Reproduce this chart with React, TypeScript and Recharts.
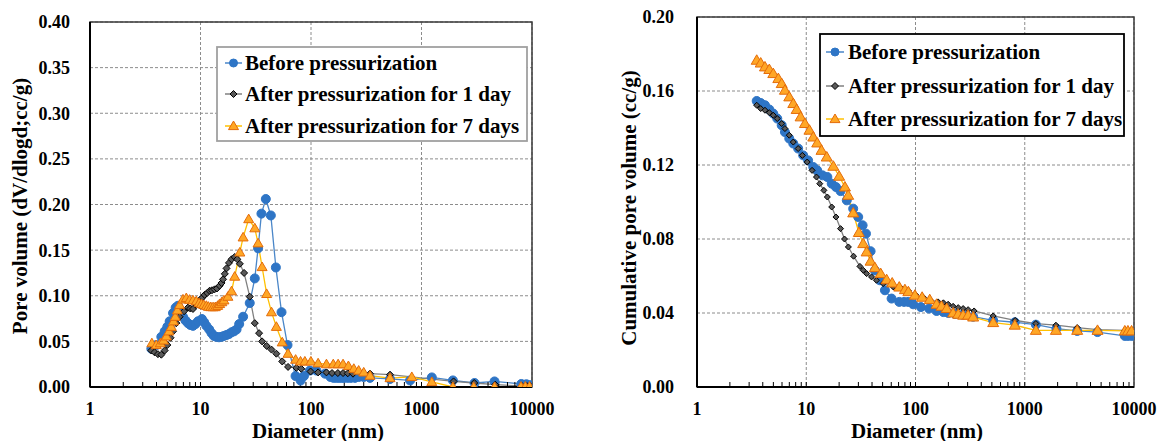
import { LineChart, Line, XAxis, YAxis, CartesianGrid, ReferenceArea } from 'recharts'

const FONT = "'Liberation Serif', 'Times New Roman', serif"

// diameter ticks (nm)
const xTicks = [1, 10, 100, 1000, 10000]
const xMinorTicks = [
  2, 3, 4, 5, 6, 7, 8, 9, 10,
  20, 30, 40, 50, 60, 70, 80, 90, 100,
  200, 300, 400, 500, 600, 700, 800, 900, 1000,
  2000, 3000, 4000, 5000, 6000, 7000, 8000, 9000,
]
const psdYTicks = [0, 0.05, 0.1, 0.15, 0.2, 0.25, 0.3, 0.35, 0.4]
const cumYTicks = [0, 0.04, 0.08, 0.12, 0.16, 0.2]

const seriesNames = ['Before pressurization', 'After pressurization for 1 day', 'After pressurization for 7 days']

// pore size distribution, [diameter nm, dV/dlogd]
const psdBefore: [number, number][] = [
  [3.59, 0.042], [3.98, 0.046], [4.42, 0.055], [4.74, 0.061], [5.01, 0.066], [5.26, 0.072], [5.64, 0.081],
  [5.96, 0.087], [6.25, 0.089], [6.6, 0.084], [6.94, 0.077], [7.3, 0.073], [7.7, 0.07], [8.1, 0.068],
  [8.55, 0.067], [9.0, 0.069], [9.49, 0.072], [10.3, 0.0745], [10.8, 0.071], [11.3, 0.067], [12.0, 0.063],
  [12.6, 0.059], [13.2, 0.056], [13.9, 0.055], [14.7, 0.0545], [15.5, 0.055], [16.3, 0.056], [17.2, 0.057],
  [18.1, 0.058], [19.1, 0.06], [20.1, 0.061], [21.2, 0.063], [22.4, 0.069], [24.3, 0.077], [27.9, 0.092],
  [31, 0.119], [33.2, 0.152], [35.6, 0.19], [39, 0.206], [43.3, 0.188], [48.1, 0.131], [54.1, 0.082],
  [61.3, 0.046], [72.5, 0.012], [80.5, 0.007], [86.3, 0.012], [97.7, 0.018], [112, 0.018], [134, 0.0146],
  [150, 0.011], [160, 0.01], [170, 0.01], [180, 0.01], [190, 0.01], [200, 0.01], [215, 0.01], [230, 0.01],
  [250, 0.01], [270, 0.011], [300, 0.011], [342, 0.01], [519, 0.0088], [788, 0.0072], [1240, 0.0105],
  [1923, 0.0072], [3020, 0.0044], [4580, 0.0061], [8000, 0.0033], [8900, 0.003], [9600, 0.002],
]
const psdDay1: [number, number][] = [
  [3.59, 0.04], [3.84, 0.038], [4.12, 0.036], [4.42, 0.0354], [4.74, 0.04], [5.01, 0.046], [5.36, 0.054],
  [5.64, 0.061], [6.05, 0.07], [6.47, 0.077], [7.1, 0.083], [7.7, 0.087], [8.1, 0.086], [8.55, 0.0855],
  [9.16, 0.09], [10.0, 0.096], [10.4, 0.098], [10.9, 0.101], [11.5, 0.103], [12.1, 0.1055], [12.7, 0.106],
  [13.4, 0.107], [14.1, 0.108], [14.9, 0.111], [15.5, 0.114], [16.0, 0.118], [16.6, 0.124], [17.2, 0.13],
  [18.1, 0.136], [19.1, 0.14], [20.4, 0.1425], [21.5, 0.14], [22.7, 0.135], [24.8, 0.125], [27.9, 0.099],
  [31, 0.07], [33.9, 0.059], [36.1, 0.05], [39.7, 0.045], [43.9, 0.041], [48.6, 0.0365], [54.9, 0.028],
  [62, 0.022], [73.7, 0.021], [81.6, 0.02], [99.1, 0.017], [116, 0.016], [138, 0.016], [155, 0.0153],
  [175, 0.0153], [195, 0.0153], [215, 0.015], [240, 0.0146], [342, 0.0146], [519, 0.0135], [1950, 0.0061],
  [3000, 0.0044], [4650, 0.0025], [8100, 0.0011], [9000, 0.001], [9600, 0.001],
]
const psdDay7: [number, number][] = [
  [3.63, 0.048], [3.98, 0.046], [4.33, 0.048], [4.63, 0.051], [4.91, 0.0555], [5.18, 0.061], [5.44, 0.066],
  [5.7, 0.072], [5.91, 0.077], [6.17, 0.084], [6.47, 0.09], [6.94, 0.096], [7.44, 0.0975], [7.97, 0.0957],
  [8.55, 0.095], [9.16, 0.094], [9.7, 0.092], [10.2, 0.091], [10.7, 0.09], [11.3, 0.089], [11.8, 0.088],
  [12.4, 0.0876], [13.0, 0.0875], [13.6, 0.0876], [14.3, 0.089], [14.9, 0.091], [15.6, 0.093], [16.3, 0.095],
  [17.7, 0.099], [19.1, 0.105], [20.4, 0.121], [22.7, 0.1475], [24.3, 0.164], [27.3, 0.184], [31, 0.174],
  [33.2, 0.1575], [36.1, 0.1315], [39.7, 0.102], [43.9, 0.082], [48.6, 0.066], [54.9, 0.049], [62, 0.0365],
  [72.6, 0.03], [80.4, 0.028], [88, 0.028], [99.8, 0.028], [116, 0.026], [138, 0.025], [159, 0.025],
  [176, 0.025], [195, 0.025], [218, 0.023], [244, 0.02], [270, 0.018], [300, 0.016], [342, 0.0124],
  [519, 0.0098], [817, 0.011], [1240, 0.0055], [1923, 0], [2970, 0], [4580, 0], [7950, 0.0005],
  [8700, 0.0005], [9500, 0.0005],
]

// cumulative pore volume, [diameter nm, cc/g]
const cumBefore: [number, number][] = [
  [3.52, 0.1546], [3.83, 0.1535], [4.19, 0.1523], [4.59, 0.15], [4.99, 0.1478], [5.43, 0.1451], [5.96, 0.1415],
  [6.38, 0.1378], [6.99, 0.1343], [7.61, 0.1316], [8.43, 0.1289], [9.38, 0.1252], [10.4, 0.1225], [11.6, 0.1189],
  [12.6, 0.1171], [14.1, 0.1144], [15.6, 0.1135], [17.1, 0.1099], [18.7, 0.1081], [20.6, 0.1059], [23.5, 0.1009],
  [26.9, 0.0964], [29.9, 0.0919], [32.8, 0.0874], [35.2, 0.0829], [38.8, 0.0734], [42.5, 0.063], [47.2, 0.0577],
  [52.5, 0.0523], [60.4, 0.0478], [71, 0.046], [78.6, 0.046], [85.6, 0.046], [95.2, 0.0447], [112, 0.0432],
  [133, 0.0424], [156, 0.0411], [180, 0.0405], [200, 0.04], [230, 0.0395], [270, 0.039], [337, 0.038],
  [514, 0.036], [811, 0.035], [1264, 0.0337], [1950, 0.0315], [3020, 0.0303], [4634, 0.0297], [8240, 0.0276],
  [8800, 0.0276], [9500, 0.0276],
]
const cumDay1: [number, number][] = [
  [3.52, 0.1523], [3.83, 0.1505], [4.19, 0.1496], [4.59, 0.1483], [4.99, 0.1469], [5.43, 0.1451], [5.96, 0.1424],
  [6.38, 0.1397], [6.99, 0.1361], [7.61, 0.1324], [8.43, 0.1289], [9.21, 0.1252], [10.2, 0.1216], [11.3, 0.1171],
  [12.4, 0.1135], [13.3, 0.1099], [14.5, 0.1063], [15.6, 0.1027], [17.1, 0.0973], [18.7, 0.0919], [20.6, 0.0856],
  [22.4, 0.08], [24.3, 0.0757], [27.1, 0.0707], [31, 0.0652], [33.2, 0.0631], [35.7, 0.0613], [39.6, 0.0595],
  [43.9, 0.0577], [50.6, 0.0559], [62.6, 0.0541], [74.6, 0.0532], [86, 0.052], [100, 0.05], [118, 0.0485],
  [135, 0.0472], [161, 0.046], [180, 0.0455], [199, 0.0447], [221, 0.0436], [246, 0.0429], [273, 0.0424],
  [303, 0.0418], [344, 0.0411], [514, 0.0384], [817, 0.036], [1264, 0.0343], [1928, 0.0334], [3020, 0.0321],
  [4634, 0.031], [8240, 0.0306], [8800, 0.0306], [9500, 0.0306],
]
const cumDay7: [number, number][] = [
  [3.52, 0.1766], [3.83, 0.1751], [4.19, 0.173], [4.59, 0.1716], [4.99, 0.1694], [5.55, 0.1667], [5.96, 0.164],
  [6.38, 0.1604], [6.99, 0.1568], [7.61, 0.1532], [8.17, 0.15], [8.88, 0.146], [9.73, 0.1424], [10.7, 0.1388],
  [11.6, 0.1351], [12.6, 0.1319], [13.8, 0.1279], [15.4, 0.1243], [17.7, 0.1193], [20, 0.1139], [22.6, 0.1081],
  [24.2, 0.1036], [26.9, 0.0941], [30.3, 0.0835], [33.2, 0.0775], [35.7, 0.073], [38.8, 0.068], [42.5, 0.0645],
  [48, 0.0613], [54.4, 0.058], [61.2, 0.0562], [71, 0.054], [80, 0.0526], [86, 0.0515], [98.8, 0.0496],
  [115, 0.0485], [135, 0.0472], [156, 0.0447], [173, 0.0436], [193, 0.0424], [221, 0.04], [246, 0.0393],
  [273, 0.0388], [303, 0.0388], [337, 0.0378], [514, 0.0348], [811, 0.0334], [1264, 0.0306], [1928, 0.0306],
  [3020, 0.0306], [4634, 0.0306], [8240, 0.0303], [8800, 0.0303], [9500, 0.0303],
]

const toRows = (pairs: [number, number][]) => pairs.map(([d, v]) => ({ d, v }))

type Kind = 'circle' | 'diamond' | 'triangle'

const STYLES = [
  { kind: 'circle' as Kind, line: '#4A86C8', fill: '#2E75C6', stroke: '#2E75C6' },
  { kind: 'diamond' as Kind, line: '#808080', fill: '#595959', stroke: '#000000' },
  { kind: 'triangle' as Kind, line: '#FFC000', fill: '#FFA726', stroke: '#E46C0A' },
]

function Marker({ kind, cx, cy, s, fill, stroke }: { kind: Kind; cx: number; cy: number; s: number; fill: string; stroke: string }) {
  if (kind === 'circle') return <circle cx={cx} cy={cy} r={s} fill={fill} stroke={stroke} strokeWidth={1} />
  if (kind === 'diamond')
    return <polygon points={`${cx},${cy - s} ${cx + s},${cy} ${cx},${cy + s} ${cx - s},${cy}`} fill={fill} stroke={stroke} strokeWidth={1} />
  return (
    <polygon
      points={`${cx},${cy - s} ${cx + s},${cy + s * 0.72} ${cx - s},${cy + s * 0.72}`}
      fill={fill}
      stroke={stroke}
      strokeWidth={1}
    />
  )
}

const makeDot = (i: number, s: number) => (p: any) => {
  const st = STYLES[i]
  if (p.cx == null || p.cy == null) return <g key={`e${i}-${p.index}`} />
  return (
    <g key={`m${i}-${p.index}`}>
      <Marker kind={st.kind} cx={p.cx} cy={p.cy} s={s} fill={st.fill} stroke={st.stroke} />
    </g>
  )
}

const tickStyle = { fill: '#000', fontSize: 18, fontWeight: 'bold', fontFamily: FONT }

interface PanelProps {
  left: number
  width: number
  margin: { top: number; right: number; bottom: number; left: number }
  yWidth: number
  yGap: number
  yMax: number
  yTicks: number[]
  series: [number, number][][]
  sizes: number[]
  yTitle: string
  yTitlePos: [number, number]
  xTitleX: number
}

function Panel(p: PanelProps) {
  return (
    <div style={{ position: 'absolute', left: p.left, top: 0 }}>
      <LineChart width={p.width} height={441} margin={p.margin}>
        <CartesianGrid strokeDasharray="3 2" stroke="#8c8c8c" strokeWidth={1} />
        <ReferenceArea x1={1} x2={10000} y1={0} y2={p.yMax} fill="none" stroke="#3a3a3a" strokeWidth={1.5} />
        <XAxis
          dataKey="d"
          type="number"
          scale="log"
          domain={[1, 10000]}
          allowDataOverflow
          ticks={xTicks}
          interval={0}
          tick={tickStyle}
          tickLine={false}
          tickSize={0}
          tickMargin={15}
          axisLine={{ stroke: '#000', strokeWidth: 2 }}
          height={30}
          label={() => (
            <text x={p.xTitleX} y={437.5} textAnchor="middle" fontFamily={FONT} fontWeight="bold" fontSize={21} fill="#000">
              Diameter (nm)
            </text>
          )}
        />
        <XAxis
          xAxisId="minor"
          dataKey="d"
          type="number"
          scale="log"
          domain={[1, 10000]}
          allowDataOverflow
          ticks={xMinorTicks}
          interval={0}
          mirror
          axisLine={false}
          tickLine={{ stroke: '#000', strokeWidth: 1 }}
          tickSize={5}
          tickFormatter={() => ''}
        />
        <YAxis
          type="number"
          domain={[0, p.yMax]}
          ticks={p.yTicks}
          interval={0}
          allowDataOverflow
          width={p.yWidth}
          tick={tickStyle}
          tickLine={false}
          tickSize={0}
          tickMargin={p.yGap}
          tickFormatter={(v: number) => v.toFixed(2)}
          axisLine={{ stroke: '#000', strokeWidth: 2 }}
          label={() => (
            <text
              x={p.yTitlePos[0]}
              y={p.yTitlePos[1]}
              transform={`rotate(-90 ${p.yTitlePos[0]} ${p.yTitlePos[1]})`}
              textAnchor="middle"
              dominantBaseline="central"
              fontFamily={FONT}
              fontWeight="bold"
              fontSize={21}
              fill="#000"
            >
              {p.yTitle}
            </text>
          )}
        />
        {p.series.map((s, i) => (
          <Line
            key={seriesNames[i]}
            data={toRows(s)}
            dataKey="v"
            name={seriesNames[i]}
            type="linear"
            stroke={STYLES[i].line}
            strokeWidth={1.3}
            dot={makeDot(i, p.sizes[i])}
            activeDot={false}
            isAnimationActive={false}
          />
        ))}
      </LineChart>
    </div>
  )
}

interface LegendBoxProps {
  box: [number, number, number, number]
  border: string
  rows: number[]
  markX: [number, number]
  textX: number
}

function LegendBox({ box, border, rows, markX, textX }: LegendBoxProps) {
  const [x0, y0, x1, y1] = box
  const sizes = [4, 3.5, 5]
  return (
    <svg style={{ position: 'absolute', left: 0, top: 0 }} width={1162} height={441}>
      <rect x={x0} y={y0} width={x1 - x0} height={y1 - y0} fill="#fff" stroke={border} strokeWidth={1.8} />
      {seriesNames.map((n, i) => {
        const st = STYLES[i]
        const cy = rows[i]
        const cx = (markX[0] + markX[1]) / 2
        return (
          <g key={n}>
            <line x1={markX[0]} x2={markX[1]} y1={cy} y2={cy} stroke={st.line} strokeWidth={1.5} />
            <Marker kind={st.kind} cx={cx} cy={cy} s={sizes[i]} fill={st.fill} stroke={st.stroke} />
            <text x={textX} y={cy} dominantBaseline="central" fontFamily={FONT} fontWeight="bold" fontSize={21} fill="#000">
              {n}
            </text>
          </g>
        )
      })}
    </svg>
  )
}

export default function App() {
  return (
    <div style={{ position: 'absolute', left: 0, top: 0, width: 1162, height: 441, background: '#fff', overflow: 'hidden' }}>
      <Panel
        left={0}
        width={570}
        margin={{ top: 22, right: 38, bottom: 24, left: 0 }}
        yWidth={90}
        yGap={20}
        yMax={0.4}
        yTicks={psdYTicks}
        series={[psdBefore, psdDay1, psdDay7]}
        sizes={[4.5, 3.5, 5]}
        yTitle="Pore volume (dV/dlogd;cc/g)"
        yTitlePos={[20, 206]}
        xTitleX={318}
      />
      <Panel
        left={580}
        width={582}
        margin={{ top: 17, right: 28, bottom: 24, left: 0 }}
        yWidth={117}
        yGap={23}
        yMax={0.2}
        yTicks={cumYTicks}
        series={[cumBefore, cumDay1, cumDay7]}
        sizes={[4.5, 3, 5.5]}
        yTitle="Cumulative pore volume (cc/g)"
        yTitlePos={[49, 208]}
        xTitleX={337}
      />
      <LegendBox box={[217, 47, 527, 141]} border="#a0a0a0" rows={[63, 94, 126]} markX={[225, 242]} textX={245} />
      <LegendBox box={[820, 34, 1124, 136]} border="#000" rows={[52, 86, 119]} markX={[826, 844]} textX={848} />
    </div>
  )
}
